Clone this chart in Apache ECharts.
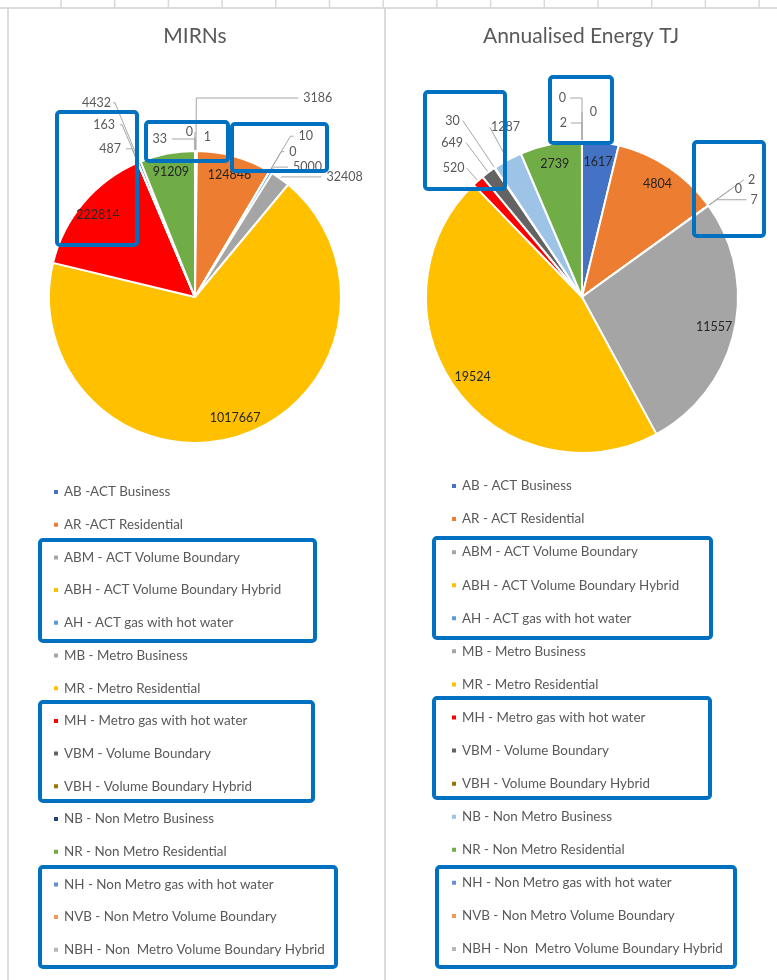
<!DOCTYPE html>
<html>
<head>
<meta charset="utf-8">
<script src="https://cdn.jsdelivr.net/npm/echarts@6/dist/echarts.min.js"></script>
<style>
  html, body { margin: 0; padding: 0; background: #fff; }
  #main { width: 777px; height: 980px; }
</style>
</head>
<body>
<div id="main"></div>
<script>
// category names (left and right legends are spelled slightly differently)
var mirnNames = ['AB -ACT Business', 'AR -ACT Residential', 'ABM - ACT Volume Boundary',
  'ABH - ACT Volume Boundary Hybrid', 'AH - ACT gas with hot water', 'MB - Metro Business',
  'MR - Metro Residential', 'MH - Metro gas with hot water', 'VBM - Volume Boundary',
  'VBH - Volume Boundary Hybrid', 'NB - Non Metro Business', 'NR - Non Metro Residential',
  'NH - Non Metro gas with hot water', 'NVB - Non Metro Volume Boundary',
  'NBH - Non  Metro Volume Boundary Hybrid'];
var energyNames = ['AB - ACT Business', 'AR - ACT Residential', 'ABM - ACT Volume Boundary',
  'ABH - ACT Volume Boundary Hybrid', 'AH - ACT gas with hot water', 'MB - Metro Business',
  'MR - Metro Residential', 'MH - Metro gas with hot water', 'VBM - Volume Boundary',
  'VBH - Volume Boundary Hybrid', 'NB - Non Metro Business', 'NR - Non Metro Residential',
  'NH - Non Metro gas with hot water', 'NVB - Non Metro Volume Boundary',
  'NBH - Non  Metro Volume Boundary Hybrid'];

// values
var mirnValues = [3186, 124846, 10, 0, 5000, 32408, 1017667, 222814, 487, 163, 4432, 91209, 33, 0, 1];
var energyValues = [1617, 4804, 2, 0, 7, 11557, 19524, 520, 649, 30, 1287, 2739, 2, 0, 0];

var mirnColors = ['#4472C4', '#ED7D31', '#A5A5A5', '#FFC000', '#5B9BD5', '#A5A5A5', '#FFC000',
  '#FF0000', '#636363', '#997300', '#264478', '#70AD47', '#698ED0', '#F1975A', '#B7B7B7'];
var energyColors = ['#4472C4', '#ED7D31', '#A5A5A5', '#FFC000', '#5B9BD5', '#A5A5A5', '#FFC000',
  '#FF0000', '#636363', '#997300', '#9DC3E6', '#70AD47', '#698ED0', '#F1975A', '#B7B7B7'];

// leader line styling for the small slices: index -> [length, length2, distance]
var mirnLeader = { 0: [53, 102, 5], 2: [41, 3, 5], 3: [23, 3, 5], 4: [6, 14, 5], 5: [2, 40, 5],
  8: [15, 6, 5], 9: [41, 2, 5], 10: [64, 2, 2], 12: [12, 23, 5], 13: [19, 0, 2], 14: [14, 0, -16] };
var energyLeader = { 2: [44, 0, 4], 3: [29, 0, 3], 4: [10, 30, 4],
  7: [17, 0, 2], 8: [37, 0, 3], 9: [57, 0, 3], 10: [37, 0, -30],
  12: [18, 11, 4], 13: [43, 12, 4], 14: [29, 0, -15] };

var FONT = 'Lato, "Open Sans", sans-serif';
var myChart = echarts.init(document.getElementById('main'));

function sum(a) { return a.reduce(function (s, v) { return s + v; }, 0); }

// small slices get an outside label with a leader line, big ones an inside label
function pieData(names, values, colors, leader, inside) {
  var total = sum(values);
  return values.map(function (v, i) {
    var big = v / total > 0.034;
    var show = inside ? big : !big;
    var item = {
      name: names[i], value: v,
      itemStyle: inside ? { color: 'transparent' } : { color: colors[i] },
      label: { show: show },
      labelLine: { show: !inside && show }
    };
    var t = leader[i];
    if (!inside && t) {
      item.labelLine.length = t[0];
      item.labelLine.length2 = t[1];
      item.label.distanceToLabelLine = t[2];
    }
    return item;
  });
}

function pieSeries(names, values, colors, leader, center, r) {
  return [{
    type: 'pie', center: center, radius: r, startAngle: 90, clockwise: true,
    data: pieData(names, values, colors, leader, false),
    itemStyle: { borderColor: '#fff', borderWidth: 2 },
    avoidLabelOverlap: false,
    label: { position: 'outside', formatter: '{c}', color: '#595959', fontSize: 12.5, fontFamily: FONT },
    labelLine: { length: 18, length2: 14, lineStyle: { color: '#A6A6A6', width: 1 } },
    emphasis: { disabled: true }
  }, {
    // label layer: inside labels sit near the rim like Excel's best fit
    type: 'pie', center: center, radius: [r * 0.7, r], startAngle: 90, clockwise: true,
    silent: true,
    data: pieData(names, values, colors, leader, true),
    label: { position: 'inside', formatter: '{c}', color: '#262626', fontSize: 12.5, fontFamily: FONT },
    labelLine: { show: false },
    emphasis: { disabled: true }
  }];
}

function legendData(names, colors) {
  return names.map(function (n, i) { return { name: n, itemStyle: { color: colors[i] } }; });
}

function legend(names, colors, left, top, gap) {
  return {
    orient: 'vertical', left: left, top: top, selectedMode: false,
    icon: 'rect', itemWidth: 6, itemHeight: 6, itemGap: gap,
    data: legendData(names, colors),
    textStyle: { color: '#595959', fontSize: 13.4, fontFamily: FONT, lineHeight: 14 }
  };
}

function box(x1, y1, x2, y2) {
  return { type: 'rect', shape: { x: x1, y: y1, width: x2 - x1, height: y2 - y1, r: 3 },
    style: { fill: null, stroke: '#0070C0', lineWidth: 4 }, z: 100 };
}
function line(x1, y1, x2, y2, c) {
  return { type: 'line', shape: { x1: x1, y1: y1, x2: x2, y2: y2 }, style: { stroke: c || '#D0D0D0', lineWidth: 1.5 }, silent: true };
}

var graphics = [
  line(0, 8, 777, 8), line(8, 8, 8, 980), line(385, 8, 385, 980),
  box(57, 112, 137, 245), box(146, 122, 228, 161), box(232, 124, 327, 171),
  box(425, 92, 505, 189), box(550, 77, 612, 143), box(694, 142, 764, 236),
  box(40, 540, 315, 641), box(40, 702, 313, 801), box(40, 867, 336, 967),
  box(434, 538, 711, 638), box(434, 698, 710, 798), box(437, 867, 735, 967)
];
for (var x = 61; x < 777; x += 53.7) graphics.push(line(x, 0, x, 8, '#D8D8D8'));

var option = {
  backgroundColor: '#fff',
  animation: false,
  title: [
    { text: 'MIRNs', left: 190, top: 21, textAlign: 'center',
      textStyle: { color: '#595959', fontSize: 21, fontWeight: 'normal', fontFamily: FONT } },
    { text: 'Annualised Energy TJ', left: 576, top: 21, textAlign: 'center',
      textStyle: { color: '#595959', fontSize: 21, fontWeight: 'normal', fontFamily: FONT } }
  ],
  legend: [
    legend(mirnNames, mirnColors, 47, 480, 18.7),
    legend(energyNames, energyColors, 445, 474, 19.07)
  ],
  graphic: graphics,
  series: pieSeries(mirnNames, mirnValues, mirnColors, mirnLeader, [195, 297], 146)
    .concat(pieSeries(energyNames, energyValues, energyColors, energyLeader, [582, 297], 156))
};

myChart.setOption(option);
</script>
</body>
</html>
